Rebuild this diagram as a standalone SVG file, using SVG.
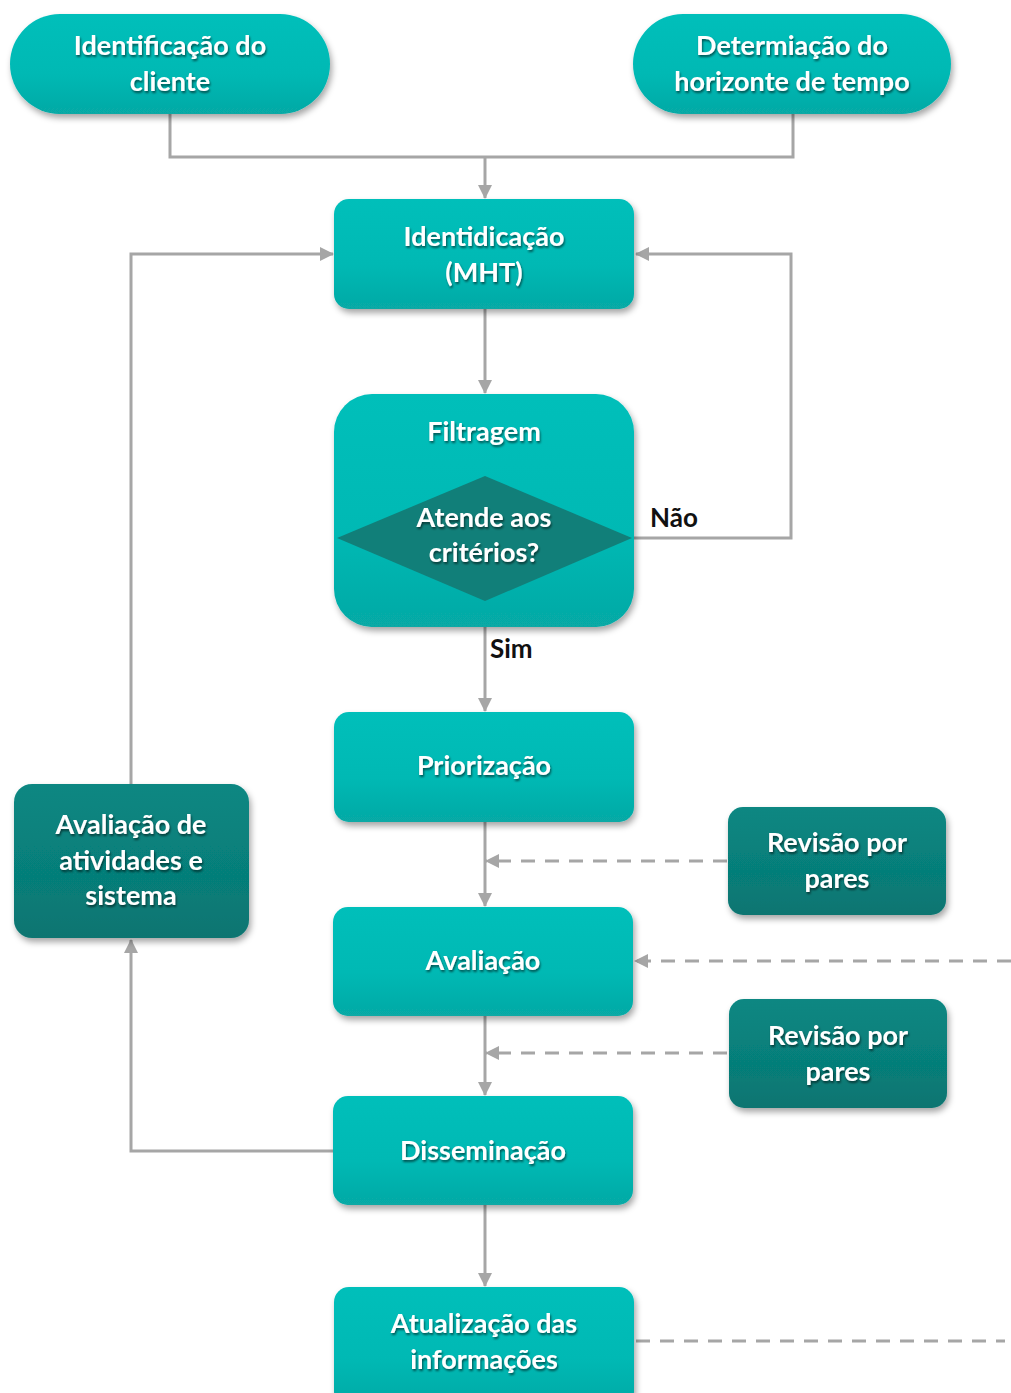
<svg xmlns="http://www.w3.org/2000/svg" width="1011" height="1393" viewBox="0 0 1011 1393">
  <defs>
    <linearGradient id="gLight" x1="0" y1="0" x2="0" y2="1">
      <stop offset="0" stop-color="#00bfba"/>
      <stop offset="0.6" stop-color="#01b9b4"/>
      <stop offset="1" stop-color="#07a9a5"/>
    </linearGradient>
    <linearGradient id="gDark" x1="0" y1="0" x2="0" y2="1">
      <stop offset="0" stop-color="#098782"/>
      <stop offset="0.6" stop-color="#067e79"/>
      <stop offset="1" stop-color="#097571"/>
    </linearGradient>
    <filter id="boxShadow" x="-10%" y="-10%" width="125%" height="130%">
      <feDropShadow dx="2" dy="4" stdDeviation="3" flood-color="#000" flood-opacity="0.35"/>
    </filter>
    <filter id="txtShadow" x="-10%" y="-20%" width="120%" height="150%">
      <feDropShadow dx="1" dy="2" stdDeviation="1" flood-color="#000" flood-opacity="0.55"/>
    </filter>
    <marker id="arrow" markerWidth="14" markerHeight="14" viewBox="0 0 14 14" refX="13" refY="7" orient="auto" markerUnits="userSpaceOnUse">
      <path d="M0,0 L14,7 L0,14 Z" fill="#a6a6a6"/>
    </marker>
  </defs>
  <style>
    .light { fill: url(#gLight); filter: url(#boxShadow); }
    .dark { fill: url(#gDark); filter: url(#boxShadow); }
    .diamond { fill: #117f79; }
    .lbl { font-family: Lato, "Open Sans", "Liberation Sans", sans-serif; font-weight: 700; font-size: 27px; fill: #ffffff; text-anchor: middle; filter: url(#txtShadow); }
    .edgeLbl { font-family: Lato, "Open Sans", "Liberation Sans", sans-serif; font-weight: 700; font-size: 26px; fill: #111111; }
    .line { fill: none; stroke: #a6a6a6; stroke-width: 3; }
    .dash { fill: none; stroke: #a6a6a6; stroke-width: 3; stroke-dasharray: 14 10; }
  </style>

  <rect width="1011" height="1393" fill="#ffffff"/>

  <!-- connectors -->
  <g id="connectors">
    <path class="line" d="M170,114 V157 H793 V114"/>
    <path class="line" d="M485,157 V198" marker-end="url(#arrow)"/>
    <path class="line" d="M485,309 V393" marker-end="url(#arrow)"/>
    <path class="line" d="M632,538 H791 V254 H636" marker-end="url(#arrow)"/>
    <path class="line" d="M485,601 V711" marker-end="url(#arrow)"/>
    <path class="line" d="M485,822 V906" marker-end="url(#arrow)"/>
    <path class="dash" d="M727,861 H486" marker-end="url(#arrow)"/>
    <path class="dash" d="M1011,961 H635" marker-end="url(#arrow)"/>
    <path class="line" d="M485,1016 V1095" marker-end="url(#arrow)"/>
    <path class="dash" d="M727,1053 H486" marker-end="url(#arrow)"/>
    <path class="line" d="M333,1151 H131 V940" marker-end="url(#arrow)"/>
    <path class="line" d="M131,784 V254 H333" marker-end="url(#arrow)"/>
    <path class="line" d="M485,1205 V1286" marker-end="url(#arrow)"/>
    <path class="dash" d="M636,1341 H1005"/>
    <text class="edgeLbl" x="650" y="527">Não</text>
    <text class="edgeLbl" x="490" y="658">Sim</text>
  </g>

  <!-- start: client -->
  <g id="n-cliente">
    <rect class="light" x="10" y="14" width="320" height="100" rx="50"/>
    <text class="lbl" x="170" y="55">Identificação do</text>
    <text class="lbl" x="170" y="91">cliente</text>
  </g>

  <!-- start: time horizon -->
  <g id="n-horizonte">
    <rect class="light" x="633" y="14" width="318" height="100" rx="50"/>
    <text class="lbl" x="792" y="55">Determiação do</text>
    <text class="lbl" x="792" y="91">horizonte de tempo</text>
  </g>

  <g id="n-identificacao">
    <rect class="light" x="334" y="199" width="300" height="110" rx="15"/>
    <text class="lbl" x="484" y="246">Identidicação</text>
    <text class="lbl" x="484" y="282">(MHT)</text>
  </g>

  <g id="n-filtragem">
    <rect class="light" x="334" y="394" width="300" height="233" rx="38"/>
    <text class="lbl" x="484" y="441">Filtragem</text>
    <path class="diamond" d="M485,476 L632,538 L485,601 L337,538 Z"/>
    <text class="lbl" x="484" y="527">Atende aos</text>
    <text class="lbl" x="484" y="562">critérios?</text>
  </g>

  <g id="n-priorizacao">
    <rect class="light" x="334" y="712" width="300" height="110" rx="15"/>
    <text class="lbl" x="484" y="775">Priorização</text>
  </g>

  <g id="n-revisao1">
    <rect class="dark" x="728" y="807" width="218" height="108" rx="15"/>
    <text class="lbl" x="837" y="852">Revisão por</text>
    <text class="lbl" x="837" y="888">pares</text>
  </g>

  <g id="n-avaliacao">
    <rect class="light" x="333" y="907" width="300" height="109" rx="15"/>
    <text class="lbl" x="483" y="970">Avaliação</text>
  </g>

  <g id="n-revisao2">
    <rect class="dark" x="729" y="999" width="218" height="109" rx="15"/>
    <text class="lbl" x="838" y="1045">Revisão por</text>
    <text class="lbl" x="838" y="1081">pares</text>
  </g>

  <g id="n-disseminacao">
    <rect class="light" x="333" y="1096" width="300" height="109" rx="15"/>
    <text class="lbl" x="483" y="1160">Disseminação</text>
  </g>

  <g id="n-avaliacao-atividades">
    <rect class="dark" x="14" y="784" width="235" height="154" rx="18"/>
    <text class="lbl" x="131" y="834">Avaliação de</text>
    <text class="lbl" x="131" y="870">atividades e</text>
    <text class="lbl" x="131" y="905">sistema</text>
  </g>

  <g id="n-atualizacao">
    <rect class="light" x="334" y="1287" width="300" height="120" rx="15"/>
    <text class="lbl" x="484" y="1333">Atualização das</text>
    <text class="lbl" x="484" y="1369">informações</text>
  </g>
</svg>
